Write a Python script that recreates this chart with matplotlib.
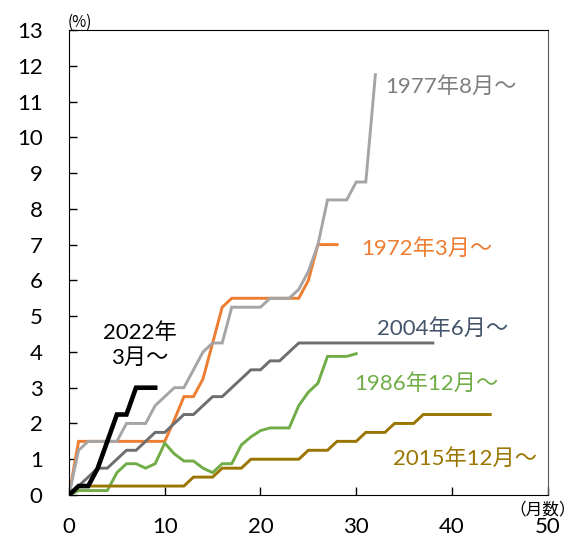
import matplotlib
matplotlib.use("Agg")
import matplotlib.pyplot as plt

plt.rcParams['font.family'] = ['Lato', 'Noto Sans CJK JP', 'DejaVu Sans']

# cumulative rise (%) by months since the start of each cycle
r1972 = [0, 1.5, 1.5, 1.5, 1.5, 1.5, 1.5, 1.5, 1.5, 1.5, 1.5, 2.1, 2.75, 2.75, 3.25,
         4.25, 5.25, 5.5, 5.5, 5.5, 5.5, 5.5, 5.5, 5.5, 5.5, 6.0, 7.0, 7.0, 7.0]
r1977 = [0, 1.25, 1.5, 1.5, 1.5, 1.5, 2.0, 2.0, 2.0, 2.5, 2.75, 3.0, 3.0, 3.5, 4.0,
         4.25, 4.25, 5.25, 5.25, 5.25, 5.25, 5.5, 5.5, 5.5, 5.75, 6.25, 7.0, 8.25, 8.25,
         8.25, 8.75, 8.75, 11.75]
r1986 = [0, 0.125, 0.125, 0.125, 0.125, 0.625, 0.875, 0.875, 0.75, 0.875, 1.45, 1.15,
         0.95, 0.95, 0.75, 0.625, 0.875, 0.875, 1.4, 1.625, 1.8, 1.875, 1.875, 1.875,
         2.5, 2.875, 3.125, 3.875, 3.875, 3.875, 3.95]
r2004 = [0, 0.25, 0.5, 0.75, 0.75, 1.0, 1.25, 1.25, 1.5, 1.75, 1.75, 2.0, 2.25, 2.25,
         2.5, 2.75, 2.75, 3.0, 3.25, 3.5, 3.5, 3.75, 3.75, 4.0, 4.25, 4.25, 4.25, 4.25,
         4.25, 4.25, 4.25, 4.25, 4.25, 4.25, 4.25, 4.25, 4.25, 4.25, 4.25]
r2015 = [0, 0.25, 0.25, 0.25, 0.25, 0.25, 0.25, 0.25, 0.25, 0.25, 0.25, 0.25, 0.25,
         0.5, 0.5, 0.5, 0.75, 0.75, 0.75, 1.0, 1.0, 1.0, 1.0, 1.0, 1.0, 1.25, 1.25, 1.25,
         1.5, 1.5, 1.5, 1.75, 1.75, 1.75, 2.0, 2.0, 2.0, 2.25, 2.25, 2.25, 2.25, 2.25,
         2.25, 2.25, 2.25]
r2022 = [0, 0.25, 0.25, 0.75, 1.5, 2.25, 2.25, 3.0, 3.0, 3.0]

fig = plt.figure(figsize=(5.8, 5.33), dpi=100)
ax = fig.add_axes([0.119, 0.0713, 0.8253, 0.8724])

series = [
    (r1972, '#ED7D31', 2.1),
    (r1977, '#A5A5A5', 2.1),
    (r1986, '#70AD47', 2.1),
    (r2004, '#6E6E6E', 2.1),
    (r2015, '#9A7500', 2.1),
    (r2022, '#000000', 3.3),
]
for vals, col, lw in series:
    ax.plot(range(len(vals)), vals, color=col, lw=lw, solid_joinstyle='miter')

ax.set_xlim(0, 50)
ax.set_ylim(0, 13)
ax.set_xticks(range(0, 51, 10))
ax.set_yticks(range(0, 14))
ax.tick_params(axis='both', direction='in', length=6, width=1, labelsize=16)
ax.tick_params(axis='y', pad=19)
ax.tick_params(axis='x', pad=16)
for s in ['left', 'bottom', 'top']:
    ax.spines[s].set_color('black')
ax.spines['right'].set_color('#595959')

fs = 16
ax.text(33.0, 11.41, '1977年8月～', color='#7F7F7F', fontsize=fs, va='center')
ax.text(30.57, 6.9, '1972年3月～', color='#ED7D31', fontsize=fs, va='center')
ax.text(32.14, 4.67, '2004年6月～', color='#44546A', fontsize=fs, va='center')
ax.text(29.77, 3.13, '1986年12月～', color='#70AD47', fontsize=fs, va='center')
ax.text(33.81, 1.03, '2015年12月～', color='#9A7500', fontsize=fs, va='center')
ax.text(7.42, 4.18, '2022年\n3月～', color='black', fontsize=fs, va='center',
        ha='center', linespacing=1.3)

ax.text(0.023, 1.017, '(%)', transform=ax.transAxes, fontsize=11,
        ha='center', va='center', family=['Noto Sans CJK JP'])
ax.text(0.99, -0.032, '（月数）', transform=ax.transAxes, fontsize=12,
        ha='center', va='center', family=['Noto Sans CJK JP'])

fig.savefig('out.png', dpi=100)
